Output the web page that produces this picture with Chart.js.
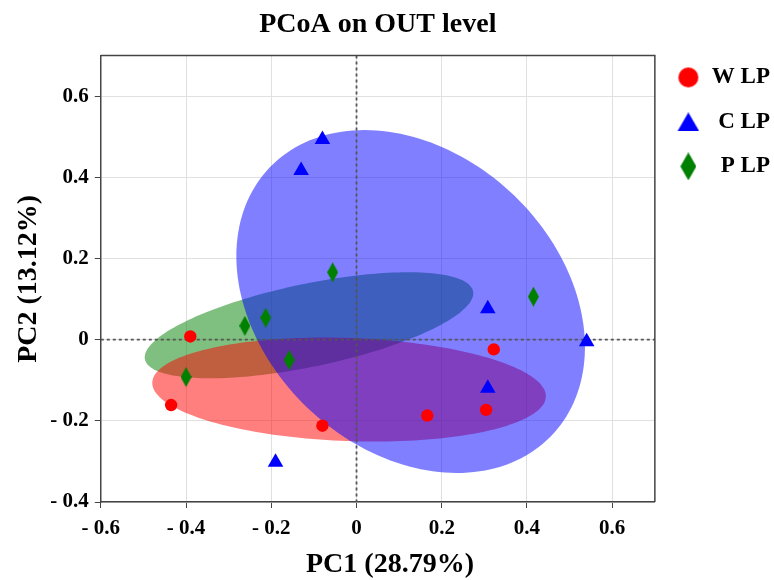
<!DOCTYPE html>
<html>
<head>
<meta charset="utf-8">
<script src="https://cdn.jsdelivr.net/npm/chart.js@4.4.1/dist/chart.umd.min.js"></script>
<style>
  html, body { margin: 0; padding: 0; background: #ffffff; }
  #wrap { width: 774px; height: 580px; }
</style>
</head>
<body>
<div id="wrap"><canvas id="c" width="774" height="580"></canvas></div>
<script>
// ---------------- data ----------------
const groupNames = ['W LP', 'C LP', 'P LP'];

const wlpX = [-0.390, -0.435, -0.080, 0.166, 0.304, 0.322];
const wlpY = [0.008, -0.161, -0.212, -0.187, -0.173, -0.024];

const clpX = [-0.080, -0.130, 0.308, 0.540, 0.308, -0.190];
const clpY = [0.493, 0.417, 0.076, -0.005, -0.120, -0.302];

const plpX = [-0.056, -0.213, -0.262, -0.158, -0.400, 0.415];
const plpY = [0.166, 0.054, 0.034, -0.050, -0.092, 0.106];

// confidence ellipses (W LP, C LP, P LP): centre, semi-axes, rotation (deg)
const ellipseCX = [-0.0175, 0.127, -0.1115];
const ellipseCY = [-0.123, 0.094, 0.0355];
const ellipseRX = [0.462, 0.468, 0.394];
const ellipseRY = [0.127, 0.356, 0.102];
const ellipseAngle = [-2.2, -48.5, 12.4];

const xTickValues = [-0.6, -0.4, -0.2, 0, 0.2, 0.4, 0.6];
const xTickLabels = ['- 0.6', '- 0.4', '- 0.2', '0', '0.2', '0.4', '0.6'];
const yTickValues = [-0.4, -0.2, 0, 0.2, 0.4, 0.6];
const yTickLabels = ['- 0.4', '- 0.2', '0', '0.2', '0.4', '0.6'];

const titleText = 'PCoA on OUT level';
const xTitle = 'PC1 (28.79%)';
const yTitle = 'PC2 (13.12%)';

// ---------------- styles ----------------
const FONT = "'Liberation Serif', 'Times New Roman', serif";
const pointColors = ['#ff0000', '#0000ff', '#008000'];
const fillColors = ['rgba(255,0,0,0.5)', 'rgba(0,0,255,0.5)', 'rgba(0,128,0,0.5)'];
const ellipseOrder = [2, 0, 1];

function makeCanvas(w, h, draw) {
  const cv = document.createElement('canvas');
  cv.width = w; cv.height = h;
  const g = cv.getContext('2d');
  draw(g, w, h);
  return cv;
}
function diamond(w, h, color, shift) {
  return makeCanvas(w + 2 * shift, h, (g, W, H) => {
    const cx = W / 2 + shift;
    g.fillStyle = color;
    g.beginPath();
    g.moveTo(cx, 0); g.lineTo(cx + w / 2, H / 2); g.lineTo(cx, H); g.lineTo(cx - w / 2, H / 2);
    g.closePath(); g.fill();
  });
}
function circle(r, color, shift) {
  const d = Math.ceil(2 * r) + 2;
  return makeCanvas(d + 2 * shift, d, (g, W, H) => {
    g.fillStyle = color;
    g.beginPath(); g.arc(W / 2 + shift, H / 2, r, 0, Math.PI * 2); g.fill();
  });
}
function triangle(w, h, color, shift) {
  return makeCanvas(Math.ceil(w) + 2 * shift, Math.ceil(h), (g, W, H) => {
    const cx = W / 2 + shift;
    g.fillStyle = color;
    g.beginPath();
    g.moveTo(cx, 0); g.lineTo(cx + w / 2, H); g.lineTo(cx - w / 2, H);
    g.closePath(); g.fill();
  });
}

const LSHIFT = 5;
const legendStyles = [
  circle(10, pointColors[0], LSHIFT),
  triangle(22, 19, pointColors[1], LSHIFT),
  diamond(16, 28, pointColors[2], LSHIFT)
];
const plotDiamond = diamond(11, 20, pointColors[2], 0);

function toPoints(xs, ys) { return xs.map((x, i) => ({x: x, y: ys[i]})); }

// ---------------- plugins ----------------
const backdropPlugin = {
  id: 'backdrop',
  beforeDatasetsDraw(chart) {
    const {ctx, chartArea: a, scales: {x, y}} = chart;
    ctx.save();
    ctx.beginPath();
    ctx.rect(a.left, a.top, a.right - a.left, a.bottom - a.top);
    ctx.clip();
    // ellipses
    ellipseOrder.forEach(k => {
      const th = ellipseAngle[k] * Math.PI / 180;
      ctx.beginPath();
      const N = 180;
      for (let i = 0; i <= N; i++) {
        const t = i / N * Math.PI * 2;
        const dx = ellipseRX[k] * Math.cos(t) * Math.cos(th) - ellipseRY[k] * Math.sin(t) * Math.sin(th);
        const dy = ellipseRX[k] * Math.cos(t) * Math.sin(th) + ellipseRY[k] * Math.sin(t) * Math.cos(th);
        const px = x.getPixelForValue(ellipseCX[k] + dx);
        const py = y.getPixelForValue(ellipseCY[k] + dy);
        if (i === 0) ctx.moveTo(px, py); else ctx.lineTo(px, py);
      }
      ctx.closePath();
      ctx.fillStyle = fillColors[k];
      ctx.fill();
    });
    // dashed zero lines
    ctx.strokeStyle = '#555555';
    ctx.lineWidth = 1.8;
    ctx.setLineDash([3, 3]);
    const x0 = x.getPixelForValue(0), y0 = y.getPixelForValue(0);
    ctx.beginPath();
    ctx.moveTo(x0, a.top); ctx.lineTo(x0, a.bottom);
    ctx.moveTo(a.left, y0); ctx.lineTo(a.right, y0);
    ctx.stroke();
    ctx.restore();
  },
  afterDatasetsDraw(chart) {
    const {ctx, chartArea: a} = chart;
    ctx.save();
    ctx.strokeStyle = '#444444';
    ctx.lineWidth = 1.5;
    ctx.beginPath();
    ctx.moveTo(a.left, a.top); ctx.lineTo(a.right, a.top); ctx.lineTo(a.right, a.bottom);
    ctx.stroke();
    ctx.restore();
  }
};

// ---------------- chart ----------------
const axisCommon = {
  type: 'linear',
  grid: { color: '#e0e0e0', lineWidth: 1, tickColor: '#444444', tickLength: 6, drawTicks: true },
  border: { display: true, color: '#444444', width: 1.5 }
};

new Chart(document.getElementById('c'), {
  type: 'scatter',
  data: {
    datasets: [
      { label: groupNames[0], data: toPoints(wlpX, wlpY), pointStyle: 'circle', pointRadius: 6.2, pointHoverRadius: 6.2,
        backgroundColor: pointColors[0], borderWidth: 0 },
      { label: groupNames[1], data: toPoints(clpX, clpY), pointStyle: 'triangle', pointRadius: 9, pointHoverRadius: 9,
        backgroundColor: pointColors[1], borderWidth: 0 },
      { label: groupNames[2], data: toPoints(plpX, plpY), pointStyle: plotDiamond, pointRadius: 10, pointHoverRadius: 10,
        backgroundColor: pointColors[2], borderWidth: 0 }
    ]
  },
  options: {
    responsive: false,
    animation: false,
    devicePixelRatio: 1,
    layout: { padding: { top: 0, right: 4, bottom: 0, left: 10 } },
    plugins: {
      tooltip: { enabled: false },
      title: {
        display: true, text: titleText, fullSize: false, color: '#000',
        font: { family: FONT, size: 28, weight: 'bold' },
        padding: { top: 8, bottom: 14 }
      },
      subtitle: {
        display: true, text: xTitle, position: 'bottom', fullSize: true, color: '#000',
        font: { family: FONT, size: 28, weight: 'bold', lineHeight: 1.1 },
        padding: { top: 0, bottom: 0 }
      },
      legend: {
        display: true, position: 'right', align: 'start', fullSize: true,
        title: { display: true, text: ' ', font: { size: 12 }, padding: { top: 30, bottom: 0 } },
        labels: {
          usePointStyle: true, pointStyleWidth: 14, padding: 21.5, color: '#000', textAlign: 'right',
          font: { family: FONT, size: 23, weight: 'bold' },
          generateLabels: (chart) => chart.data.datasets.map((ds, i) => ({
            text: ds.label, fillStyle: pointColors[i], strokeStyle: pointColors[i], lineWidth: 0,
            pointStyle: legendStyles[i], hidden: false, datasetIndex: i, fontColor: '#000'
          }))
        }
      }
    },
    scales: {
      x: Object.assign({}, axisCommon, {
        min: -0.6, max: 0.7,
        afterBuildTicks: (s) => { s.ticks = xTickValues.map(v => ({value: v})); },
        ticks: { color: '#000', padding: 8, font: { family: FONT, size: 21, weight: 'bold' },
                 callback: (v, i) => xTickLabels[i] },
        title: { display: false }
      }),
      y: Object.assign({}, axisCommon, {
        min: -0.4, max: 0.7,
        afterBuildTicks: (s) => { s.ticks = yTickValues.map(v => ({value: v})); },
        ticks: { color: '#000', padding: 6, font: { family: FONT, size: 21, weight: 'bold' },
                 callback: (v, i) => yTickLabels[i] },
        title: { display: true, text: yTitle, color: '#000',
                 font: { family: FONT, size: 28, weight: 'bold', lineHeight: 1.1 },
                 padding: { top: 3.5, bottom: 0 } }
      })
    }
  },
  plugins: [backdropPlugin]
});
</script>
</body>
</html>
